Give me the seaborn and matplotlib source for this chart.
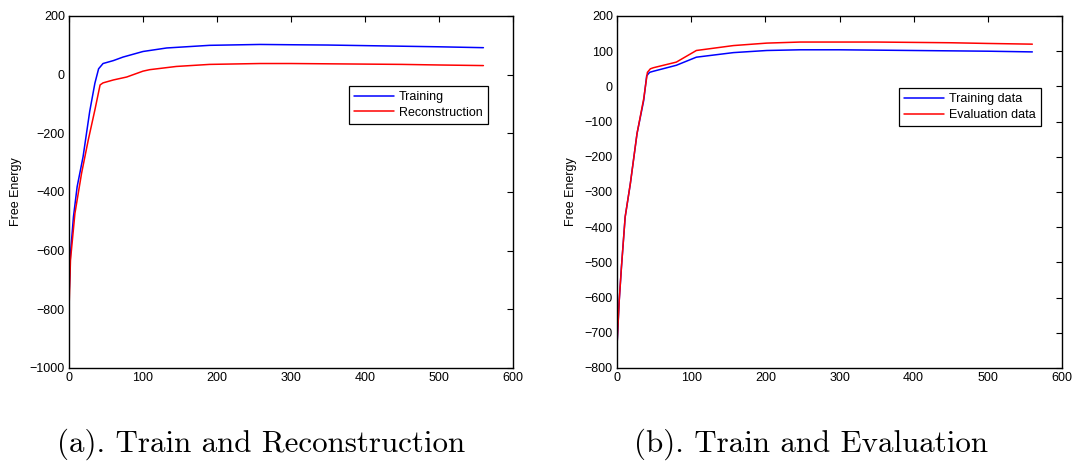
import matplotlib
matplotlib.use("Agg")
import matplotlib.pyplot as plt
import seaborn as sns

# ---- data ----
a_train_x = [0, 2, 6, 11, 19, 28, 35, 40, 46, 60, 73, 100, 132, 190, 258, 300, 350, 400, 450, 500, 560]
a_train_y = [-760, -610, -485, -382, -280, -125, -29, 20, 38, 48, 60, 79, 91, 100, 103, 102, 101, 99, 97, 95, 92]
a_recon_x = [0, 2, 8, 17, 26, 35, 42, 46, 60, 78, 100, 109, 145, 190, 258, 300, 350, 400, 450, 500, 560]
a_recon_y = [-800, -632, -473, -336, -223, -120, -35, -28, -18, -8, 12, 17, 28, 35, 38, 38, 37, 36, 35, 33, 31]

b_train_x = [0, 3, 6, 11, 18, 27, 36, 40, 44, 49, 80, 107, 157, 202, 247, 300, 350, 400, 450, 500, 560]
b_train_y = [-737, -608, -513, -371, -276, -134, -40, 30, 40, 43, 60, 83, 96, 102, 104, 104, 103, 102, 101, 100, 98]
b_eval_x = [0, 3, 6, 11, 18, 27, 36, 41, 45, 49, 80, 107, 157, 202, 247, 300, 350, 400, 450, 500, 560]
b_eval_y = [-737, -608, -513, -371, -276, -134, -35, 40, 50, 53, 69, 102, 116, 123, 126, 126, 126, 125, 124, 122, 120]

a_labels = ["Training", "Reconstruction"]
b_labels = ["Training data", "Evaluation data"]
captions = ["(a). Train and Reconstruction", "(b). Train and Evaluation"]
ylabel = "Free Energy"
x_ticks = [0, 100, 200, 300, 400, 500, 600]
a_yticks = [-1000, -800, -600, -400, -200, 0, 200]
b_yticks = [-800, -700, -600, -500, -400, -300, -200, -100, 0, 100, 200]

sns.set_style("white")
plt.rcParams["font.family"] = ["Liberation Sans", "DejaVu Sans"]
plt.rcParams["text.color"] = "black"
plt.rcParams["axes.labelcolor"] = "black"

fig = plt.figure(figsize=(10.78, 4.63), dpi=100)
axA = fig.add_axes([69/1078, 95/463, 444/1078, 352/463])
axB = fig.add_axes([617/1078, 95/463, 445/1078, 352/463])

sns.lineplot(x=a_train_x, y=a_train_y, ax=axA, color=(0, 0, 1), lw=1.1, label=a_labels[0])
sns.lineplot(x=a_recon_x, y=a_recon_y, ax=axA, color=(1, 0, 0), lw=1.1, label=a_labels[1])
sns.lineplot(x=b_train_x, y=b_train_y, ax=axB, color=(0, 0, 1), lw=1.1, label=b_labels[0])
sns.lineplot(x=b_eval_x, y=b_eval_y, ax=axB, color=(1, 0, 0), lw=1.1, label=b_labels[1])

for ax, yt in ((axA, a_yticks), (axB, b_yticks)):
    ax.set_xlim(0, 600)
    ax.set_ylim(yt[0], yt[-1])
    ax.set_xticks(x_ticks)
    ax.set_yticks(yt)
    ax.tick_params(direction="in", top=True, right=True, length=4, width=0.8,
                   labelsize=9, colors="black", pad=3)
    for s in ax.spines.values():
        s.set_color("black")
        s.set_linewidth(1.0)
    ax.set_ylabel(ylabel, fontsize=9, color="black")

axA.yaxis.set_label_coords(-0.106, 0.5)
axB.yaxis.set_label_coords(-0.09, 0.5)

legA = axA.legend(loc="upper left", bbox_to_anchor=(0.631, 0.801), fontsize=9,
                  frameon=True, fancybox=False, edgecolor="black", framealpha=1,
                  handlelength=3.2, borderpad=0.4, labelspacing=0.3, handletextpad=0.4,
                  borderaxespad=0)
legB = axB.legend(loc="upper left", bbox_to_anchor=(0.634, 0.795), fontsize=9,
                  frameon=True, fancybox=False, edgecolor="black", framealpha=1,
                  handlelength=3.2, borderpad=0.4, labelspacing=0.3, handletextpad=0.4,
                  borderaxespad=0)
for leg in (legA, legB):
    leg.get_frame().set_linewidth(0.9)
    for t in leg.get_texts():
        t.set_color("black")

fig.text(261/1078, 1 - 444/463, captions[0], ha="center", va="center",
         fontsize=22.3, family="cmr10", color="black")
fig.text(811/1078, 1 - 444/463, captions[1], ha="center", va="center",
         fontsize=22.3, family="cmr10", color="black")

fig.savefig("out.png", dpi=100, facecolor="white")
